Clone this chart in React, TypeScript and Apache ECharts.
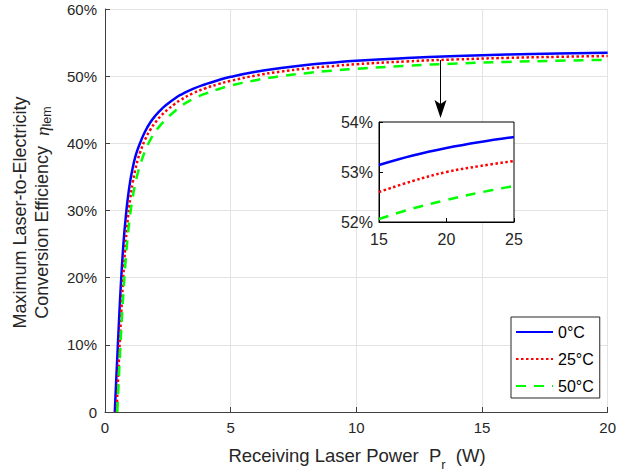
import React, { useEffect, useRef } from "react";
import * as echarts from "echarts";

// ---- Data ----
const powerBlue = [0.39, 0.45, 0.5, 0.55, 0.6, 0.65, 0.7, 0.75, 0.8, 0.9, 1.0, 1.1, 1.2, 1.3, 1.4, 1.6, 1.8, 2.0, 2.25, 2.5, 2.75, 3.0, 3.5, 4.0, 4.5, 5.0, 6.0, 7.0, 8.0, 9.0, 10, 12, 14, 16, 18, 20];
const effBlue = [0, 5, 9, 13, 16.8, 20.2, 23.2, 25.8, 28, 31.6, 34.3, 36.3, 37.9, 39.1, 40.1, 41.8, 43.1, 44.1, 45.1, 45.9, 46.6, 47.2, 48.1, 48.8, 49.4, 49.9, 50.65, 51.2, 51.65, 52.0, 52.3, 52.7, 53.0, 53.22, 53.38, 53.5];

const powerRed = [0.46, 0.5, 0.55, 0.6, 0.65, 0.7, 0.75, 0.8, 0.9, 1.0, 1.1, 1.2, 1.3, 1.4, 1.6, 1.8, 2.0, 2.25, 2.5, 2.75, 3.0, 3.5, 4.0, 4.5, 5.0, 6.0, 7.0, 8.0, 9.0, 10, 12, 14, 16, 18, 20];
const effRed = [0, 3.4, 7.5, 11.4, 15.1, 18.5, 21.5, 24.2, 28.5, 31.7, 34.1, 36.0, 37.5, 38.7, 40.6, 42.0, 43.1, 44.2, 45.05, 45.8, 46.45, 47.45, 48.2, 48.8, 49.3, 50.1, 50.68, 51.13, 51.48, 51.78, 52.2, 52.5, 52.72, 52.88, 53.0];

const powerGreen = [0.49, 0.55, 0.6, 0.65, 0.7, 0.75, 0.8, 0.9, 1.0, 1.1, 1.2, 1.3, 1.4, 1.6, 1.8, 2.0, 2.25, 2.5, 2.75, 3.0, 3.5, 4.0, 4.5, 5.0, 6.0, 7.0, 8.0, 9.0, 10, 12, 14, 16, 18, 20];
const effGreen = [0, 5, 8.9, 12.5, 15.8, 18.8, 21.5, 26.0, 29.3, 31.9, 33.9, 35.5, 36.8, 38.9, 40.5, 41.7, 42.9, 43.85, 44.7, 45.5, 46.6, 47.4, 48.05, 48.6, 49.4, 50.0, 50.45, 50.8, 51.1, 51.55, 51.88, 52.12, 52.3, 52.44];

const insetPower = [15, 17.5, 20, 22.5, 25];
const insetBlue = [53.14, 53.33, 53.48, 53.6, 53.7];
const insetRed = [52.6, 52.82, 53.0, 53.12, 53.22];
const insetGreen = [52.06, 52.27, 52.44, 52.59, 52.72];

const seriesNames = ["0°C", "25°C", "50°C"];
const xTicks = { min: 0, max: 20, interval: 5 };
const yTicks = { min: 0, max: 60, interval: 10 };
const insetXTicks = { min: 15, max: 25, interval: 5 };
const insetYTicks = { min: 52, max: 54, interval: 1 };

const FAMILY = "'Liberation Sans', Arial, Helvetica, sans-serif";
const SERIF = "'Liberation Serif', 'DejaVu Serif', serif";
const TXT = "#262626";
const AXIS = "#404040";
const GRIDC = "#e3e3e3";

const zip = (xs: number[], ys: number[]) => xs.map((x, i) => [x, ys[i]]);

const styles = [
  { color: "#0000ff", type: "solid" as any },
  { color: "#ff0000", type: [2.5, 2.5] as any },
  { color: "#00ff00", type: [10, 8] as any },
];

type Part = { text: string; size: number; family: string; italic?: boolean; dy: number };

function measure(p: Part): number {
  const ctx = document.createElement("canvas").getContext("2d");
  if (!ctx) return p.text.length * p.size * 0.55;
  ctx.font = `${p.italic ? "italic " : ""}${p.size}px ${p.family}`;
  return ctx.measureText(p.text).width;
}

// lays out parts left to right, centred on local x = 0
function runParts(parts: Part[]): any[] {
  const widths = parts.map(measure);
  const total = widths.reduce((a, b) => a + b, 0);
  let x = -total / 2;
  return parts.map((p, i) => {
    const el = {
      type: "text",
      x,
      y: p.dy,
      style: {
        text: p.text,
        textAlign: "left",
        textVerticalAlign: "middle",
        fontSize: p.size,
        fontFamily: p.family,
        fontStyle: p.italic ? "italic" : "normal",
        fill: TXT,
      },
    };
    x += widths[i];
    return el;
  });
}

export default function App() {
  const ref = useRef<HTMLDivElement>(null);
  useEffect(() => {
    if (!ref.current) return;
    const chart = echarts.init(ref.current, null, { renderer: "svg" });
    const mainData = [zip(powerBlue, effBlue), zip(powerRed, effRed), zip(powerGreen, effGreen)];
    const insetData = [zip(insetPower, insetBlue), zip(insetPower, insetRed), zip(insetPower, insetGreen)];

    const series: any[] = [];
    mainData.forEach((d, i) => {
      series.push({
        name: seriesNames[i],
        type: "line",
        xAxisIndex: 0,
        yAxisIndex: 0,
        data: d,
        symbol: "none",
        smooth: 0.5,
        z: 3,
        lineStyle: { color: styles[i].color, width: 2.5, type: styles[i].type },
        itemStyle: { color: styles[i].color },
      });
    });
    insetData.forEach((d, i) => {
      series.push({
        name: seriesNames[i],
        type: "line",
        xAxisIndex: 1,
        yAxisIndex: 1,
        data: d,
        symbol: "none",
        smooth: 0.4,
        z: 8,
        lineStyle: { color: styles[i].color, width: 2.5, type: styles[i].type },
        itemStyle: { color: styles[i].color },
      });
    });

    const axisCommon = {
      axisLine: { show: true, onZero: false, lineStyle: { color: AXIS, width: 1 } },
      axisTick: { show: true, inside: true, length: 5, lineStyle: { color: AXIS } },
      splitLine: { show: true, lineStyle: { color: GRIDC, width: 1 } },
    };

    const xTitle = runParts([
      { text: "Receiving Laser Power  P", size: 18.5, family: FAMILY, dy: 0 },
      { text: "r", size: 13, family: FAMILY, dy: 9.5 },
      { text: "  (W)", size: 18.5, family: FAMILY, dy: 0 },
    ]);
    const yLine1 = runParts([{ text: "Maximum Laser-to-Electricity", size: 18, family: FAMILY, dy: 0 }]);
    const yLine2 = runParts([
      { text: "Conversion Efficiency  ", size: 18, family: FAMILY, dy: 22 },
      { text: "η", size: 19, family: SERIF, italic: true, dy: 22 },
      { text: "lem", size: 12.5, family: FAMILY, dy: 27 },
    ]);

    chart.setOption({
      animation: false,
      backgroundColor: "#ffffff",
      grid: [
        { left: 105, right: 7, top: 9, bottom: 62, containLabel: false },
        {
          left: 379, top: 122, width: 135, height: 100, z: 5,
          show: true, backgroundColor: "#ffffff", borderColor: "#000000", borderWidth: 1,
        },
      ],
      xAxis: [
        {
          type: "value", gridIndex: 0, ...xTicks, ...axisCommon,
          axisLabel: { color: TXT, fontSize: 15, fontFamily: FAMILY, margin: 8 },
        },
        {
          type: "value", gridIndex: 1, ...insetXTicks, z: 6,
          axisLine: { show: true, onZero: false, lineStyle: { color: "#000", width: 1 } },
          axisTick: { show: true, inside: true, length: 4, lineStyle: { color: "#000" } },
          splitLine: { show: false },
          axisLabel: { color: TXT, fontSize: 16, fontFamily: FAMILY, margin: 9 },
        },
      ],
      yAxis: [
        {
          type: "value", gridIndex: 0, ...yTicks, ...axisCommon,
          axisLabel: {
            color: TXT, fontSize: 15, fontFamily: FAMILY, margin: 8,
            formatter: (v: number) => (v === 0 ? "0" : `${v}%`),
          },
        },
        {
          type: "value", gridIndex: 1, ...insetYTicks, z: 6,
          axisLine: { show: true, onZero: false, lineStyle: { color: "#000", width: 1 } },
          axisTick: { show: true, inside: true, length: 4, lineStyle: { color: "#000" } },
          splitLine: { show: false },
          axisLabel: {
            color: TXT, fontSize: 16, fontFamily: FAMILY, margin: 6,
            formatter: (v: number) => `${v}%`,
          },
        },
      ],
      legend: {
        data: seriesNames,
        orient: "vertical",
        left: 511,
        top: 317,
        itemWidth: 37,
        itemHeight: 14,
        itemGap: 11,
        padding: [7, 6, 4, 4],
        backgroundColor: "#ffffff",
        borderColor: TXT,
        borderWidth: 1,
        borderRadius: 0,
        z: 9,
        itemStyle: { opacity: 0 },
        textStyle: { color: "#000", fontSize: 16, fontFamily: FAMILY },
      },
      graphic: [
        { type: "group", x: 357, y: 455, z: 10, children: xTitle },
        {
          type: "group",
          x: 20,
          y: 212.5,
          rotation: Math.PI / 2,
          z: 10,
          children: [...yLine1, ...yLine2],
        },
        {
          type: "line",
          z: 10,
          shape: { x1: 440.5, y1: 60, x2: 440.5, y2: 106 },
          style: { stroke: "#000", lineWidth: 1 },
        },
        {
          type: "polygon",
          z: 10,
          shape: { points: [[440.5, 118], [434.5, 100], [440.5, 104], [446.5, 100]] },
          style: { fill: "#000" },
        },
      ],
      series,
    });
    return () => chart.dispose();
  }, []);
  return <div ref={ref} style={{ width: 619, height: 474, position: "absolute", left: 0, top: 0 }} />;
}
